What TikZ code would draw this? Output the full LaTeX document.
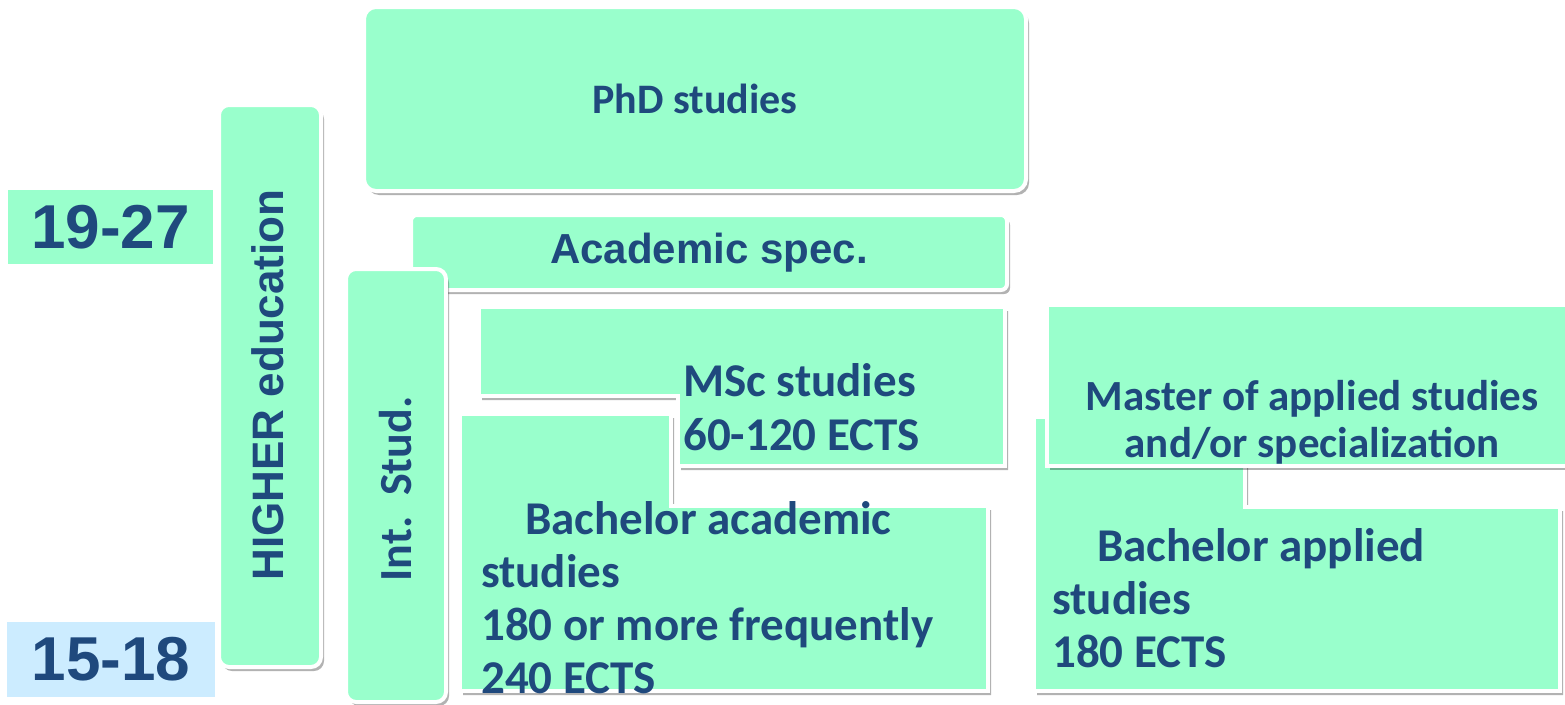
\documentclass[tikz,border=0pt]{standalone}
\usepackage{fontspec}
\setmainfont{Carlito}
\newfontfamily\arialf{Liberation Sans}
\usetikzlibrary{shadows}
\definecolor{mint}{HTML}{99FFCC}
\definecolor{lblue}{HTML}{CCECFF}
\definecolor{tblue}{HTML}{1F497D}
\begin{document}
\begin{tikzpicture}[x=1pt,y=-1pt,
  shad/.style={drop shadow={shadow xshift=3pt,shadow yshift=-4pt,opacity=0.3,fill=black}},
  rbox/.style={draw=white,line width=4pt,fill=mint,rounded corners=#1,shad,inner sep=0pt},
  rbox/.default=10pt,
  poly/.style={draw=white,line width=4pt,fill=mint,line join=miter,shad},
  age/.style={inner sep=0pt,text=tblue,font=\arialf\bfseries\fontsize{62}{70}\selectfont},
  lbl/.style={inner sep=0pt,text=tblue},
  cal/.style={font=\bfseries\fontsize{#1}{#1}\selectfont},
  ]
\useasboundingbox (0,0) rectangle (1565,704);
\clip (0,0) rectangle (1565,704);

% age boxes
\node[age,fill=mint,minimum width=205pt,minimum height=74pt] (a1927) at (110.5,227) {19-27};
\node[age,fill=lblue,minimum width=208pt,minimum height=75pt] (a1518) at (111,659.5) {15-18};

% vertical boxes
\node[rbox,minimum width=102pt,minimum height=562pt] (higher) at (270,386) {};
\node[lbl,rotate=90,font=\arialf\bfseries\fontsize{44}{44}\selectfont] (highert) at (268,385) {HIGHER education};

% PhD and Academic spec.
\node[rbox=12pt,minimum width=662pt,minimum height=184pt,text=tblue,cal=42] (phd) at (695,99) {PhD studies};
\node[rbox=6pt,minimum width=596pt,minimum height=75pt,text=tblue,font=\arialf\bfseries\fontsize{42}{42}\selectfont] (acspec) at (709,252.5) {Academic spec.};

\node[rbox,minimum width=100pt,minimum height=433pt] (intst) at (396,485.5) {};
\node[lbl,rotate=90,cal=46] (intstt) at (396,489) {Int.\ \ Stud.};

% academic track
\draw[poly] (479,307) -- (1005,307) -- (1005,466) -- (678,466) -- (678,396) -- (479,396) -- cycle;
\draw[poly] (460,414) -- (671,414) -- (671,506) -- (988,506) -- (988,691) -- (460,691) -- cycle;

% applied track
\draw[poly] (1034,417) -- (1245,417) -- (1245,507) -- (1560,507) -- (1560,691) -- (1034,691) -- cycle;
\draw[poly] (1047,305) -- (1570,305) -- (1570,466) -- (1047,466) -- cycle;

% texts
\node[lbl,anchor=base west,font=\bfseries\fontsize{47}{54}\selectfont] (msc) at (683,396)
  {\begin{tabular}[t]{@{}l@{}}MSc studies\\60-120 ECTS\end{tabular}};
\node[lbl,anchor=south west,align=left,font=\bfseries\fontsize{47}{53}\selectfont] (bacad) at (481,694)
  {\hspace*{44pt}Bachelor academic\\studies\\180 or more frequently\\240 ECTS};
\node[lbl,anchor=base,font=\bfseries\fontsize{43}{47}\selectfont] (mapp) at (1312,410)
  {\begin{tabular}[t]{@{}c@{}}Master of applied studies\\and/or specialization\end{tabular}};
\node[lbl,anchor=south west,align=left,font=\bfseries\fontsize{47}{53}\selectfont] (bapp) at (1052,668)
  {\hspace*{45pt}Bachelor applied\\studies\\180 ECTS};
\end{tikzpicture}
\end{document}
